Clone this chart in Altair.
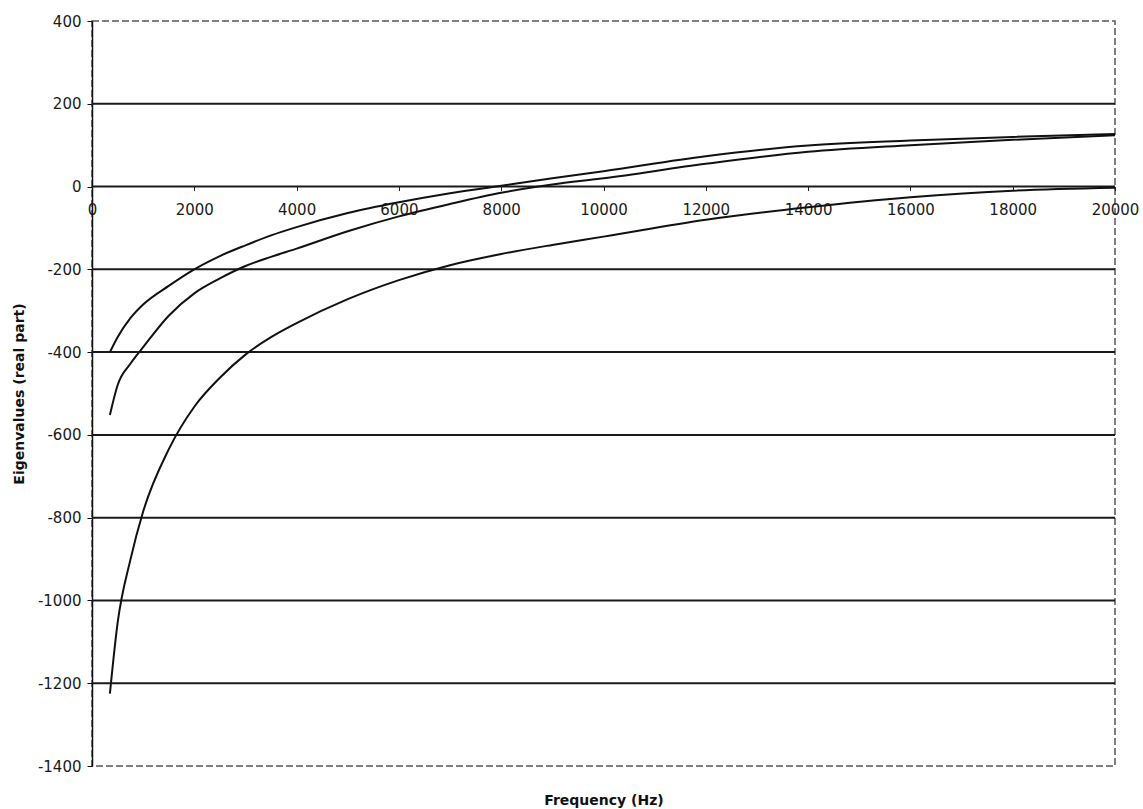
import altair as alt
import pandas as pd

# Frequency grid (Hz) and the real part of the three eigenvalues
freq_hz = [350, 500, 750, 1000, 1500, 2000, 2500, 3000, 3500, 4000, 5000, 6000,
           7000, 8000, 9000, 10000, 12000, 14000, 16000, 18000, 20000]
eig_1 = [-400, -364, -318, -285, -240, -200, -168, -142, -118, -98, -64, -38,
         -16, 2, 20, 37, 73, 99, 111, 120, 127]
eig_2 = [-552, -480, -428, -388, -312, -258, -222, -192, -170, -150, -108, -72,
         -42, -15, 5, 20, 55, 84, 100, 113, 124]
eig_3 = [-1225, -1055, -902, -785, -635, -532, -462, -406, -364, -330, -272, -226,
         -190, -163, -141, -121, -80, -50, -26, -10, -3]

x_ticks = [0, 2000, 4000, 6000, 8000, 10000, 12000, 14000, 16000, 18000, 20000]
y_ticks = [400, 200, 0, -200, -400, -600, -800, -1000, -1200, -1400]
grid_values = [200, 0, -200, -400, -600, -800, -1000, -1200]

rows = []
for name, vals in (("1", eig_1), ("2", eig_2), ("3", eig_3)):
    for f, v in zip(freq_hz, vals):
        rows.append({"freq": f, "value": v, "series": name})
df = pd.DataFrame(rows)
grid_df = pd.DataFrame({"g": grid_values})

W, H = 1023, 745
FONT = "DejaVu Sans"
x_scale = alt.Scale(domain=[0, 20000], nice=False, zero=False)
y_scale = alt.Scale(domain=[-1400, 400], nice=False, zero=False)
plain_label = "toString(datum.value)"

# the x axis sits on the zero line; its title stays under the plot
zero_px = H * 400 / 1800
x_axis = alt.Axis(
    values=x_ticks, labelExpr=plain_label, grid=False, domain=False,
    offset=-(H - zero_px), tickSize=4, tickColor="#222",
    labelPadding=12, labelFontSize=15, labelFont=FONT, labelColor="#1a1a1a",
    labelFlush=False,
    title="Frequency (Hz)", titleFont=FONT, titleFontSize=14,
    titleFontWeight="bold", titleColor="#111", titleY=(800 - 21) - zero_px,
    titleBaseline="middle",
)
y_axis = alt.Axis(
    values=y_ticks, labelExpr=plain_label, grid=False, domain=True,
    domainColor="#111", domainWidth=1.5, tickSize=5, tickColor="#111",
    labelPadding=6, labelFontSize=15, labelFont=FONT, labelColor="#1a1a1a",
    labelFlush=False,
    title="Eigenvalues (real part)", titleFont=FONT, titleFontSize=14,
    titleFontWeight="bold", titleColor="#111", titleX=-73, titleY=H / 2,
    titleAngle=-90, titleAlign="center", titleBaseline="middle",
)

grid = alt.Chart(grid_df).mark_rule(color="#1a1a1a", strokeWidth=2).encode(
    y=alt.Y("g:Q", scale=y_scale, axis=y_axis),
)

lines = alt.Chart(df).mark_line(
    color="#111", strokeWidth=2, interpolate="monotone"
).encode(
    x=alt.X("freq:Q", scale=x_scale, axis=x_axis),
    y=alt.Y("value:Q", scale=y_scale, axis=y_axis),
    detail="series:N",
)

chart = alt.layer(grid, lines).properties(
    width=W, height=H,
    autosize=alt.AutoSizeParams(type="none"),
    padding={"left": 92, "top": 21, "right": 1143 - 92 - W, "bottom": 809 - 21 - H},
    background="white",
).configure_view(
    stroke="#555", strokeWidth=1.5, strokeDash=[7, 3]
)

chart.save("out.html", embed_options={"renderer": "svg", "actions": False})
